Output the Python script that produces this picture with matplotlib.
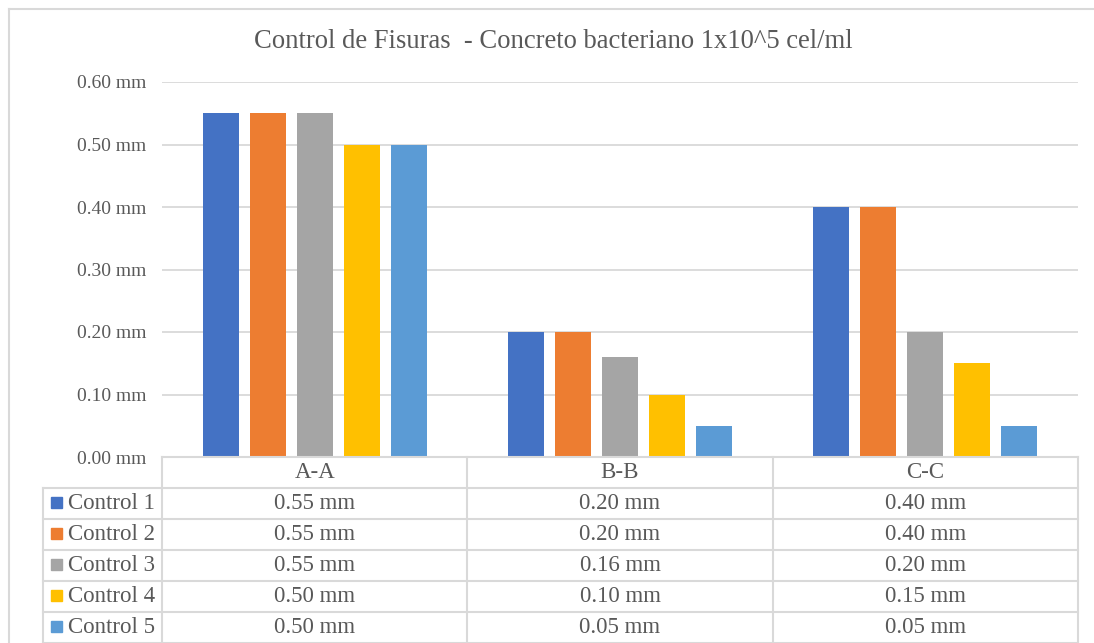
import numpy as np
import matplotlib
matplotlib.use("Agg")
import matplotlib.pyplot as plt
from matplotlib.lines import Line2D
from matplotlib.patches import Rectangle

categories = ['A-A', 'B-B', 'C-C']
series_names = ['Control 1', 'Control 2', 'Control 3', 'Control 4', 'Control 5']
control_1 = [0.55, 0.20, 0.40]
control_2 = [0.55, 0.20, 0.40]
control_3 = [0.55, 0.16, 0.20]
control_4 = [0.50, 0.10, 0.15]
control_5 = [0.50, 0.05, 0.05]
yticks = [0.0, 0.1, 0.2, 0.3, 0.4, 0.5, 0.6]

series = [control_1, control_2, control_3, control_4, control_5]
colors = ['#4472C4', '#ED7D31', '#A5A5A5', '#FFC000', '#5B9BD5']
txt = '#595959'
grid = '#D9D9D9'
plt.rcParams['font.family'] = ['Liberation Serif', 'DejaVu Serif']

W, H = 1094, 643
fig = plt.figure(figsize=(W / 100, H / 100), dpi=100)

def box(x0, y0, x1, y1):
    # pixel coords (top-left origin) -> figure fraction rect
    return [x0 / W, 1 - y1 / H, (x1 - x0) / W, (y1 - y0) / H]

# outer chart frame (left and top edges only are visible)
fig.add_artist(Line2D([9 / W, 9 / W], [0, 1 - 9 / H], color=grid, lw=1.5, transform=fig.transFigure))
fig.add_artist(Line2D([9 / W, 1], [1 - 9 / H, 1 - 9 / H], color=grid, lw=1.5, transform=fig.transFigure))

ax = fig.add_axes(box(162, 82, 1078, 457))
x = np.arange(len(categories))
step = 47 / 305
bw = 36 / 305
for i, (vals, c) in enumerate(zip(series, colors)):
    ax.bar(x + (i - 2) * step, vals, width=bw, color=c, zorder=3)
ax.set_xlim(-0.5, 2.5)
ax.set_ylim(0, 0.6)
ax.set_yticks(yticks)
ax.set_yticklabels(['%.2f mm' % v for v in yticks], color=txt, fontsize=14)
ax.tick_params(axis='y', length=0, pad=11.5)
ax.set_xticks([])
ax.grid(axis='y', color=grid, lw=1.3, zorder=0)
for s in ax.spines.values():
    s.set_visible(False)

fig.text(553 / W, 1 - 42 / H, 'Control de Fisuras  - Concreto bacteriano 1x10^5 cel/ml',
         ha='center', va='center', color=txt, fontsize=19.2)

# data table
tb = fig.add_axes(box(162, 457, 1078, 643))
tb.set_xlim(-0.5, 2.5)
tb.set_ylim(6, 0)
tb.axis('off')
left = -0.5 - 119 / (916 / 3)
kw = dict(color=grid, lw=1.5, clip_on=False)
tb.plot([-0.5, 2.5], [0, 0], **kw)
for r in range(1, 7):
    tb.plot([left, 2.5], [r, r], **kw)
for cx in [-0.5, 0.5, 1.5, 2.5]:
    tb.plot([cx, cx], [0, 6], **kw)
tb.plot([left, left], [1, 6], **kw)
for j, cat in enumerate(categories):
    tb.text(j, 0.5, cat, ha='center', va='center', color=txt, fontsize=16.5)
for i, (name, vals, c) in enumerate(zip(series_names, series, colors)):
    r = i + 1.5
    tb.add_patch(Rectangle((left + 0.025, r - 0.2), 0.038, 0.36, color=c, clip_on=False))
    tb.text(left + 0.082, r, name, ha='left', va='center', color=txt, fontsize=16.5)
    for j, v in enumerate(vals):
        tb.text(j, r, '%.2f mm' % v, ha='center', va='center', color=txt, fontsize=16.5)

fig.savefig('out.png', dpi=100, facecolor='white')
